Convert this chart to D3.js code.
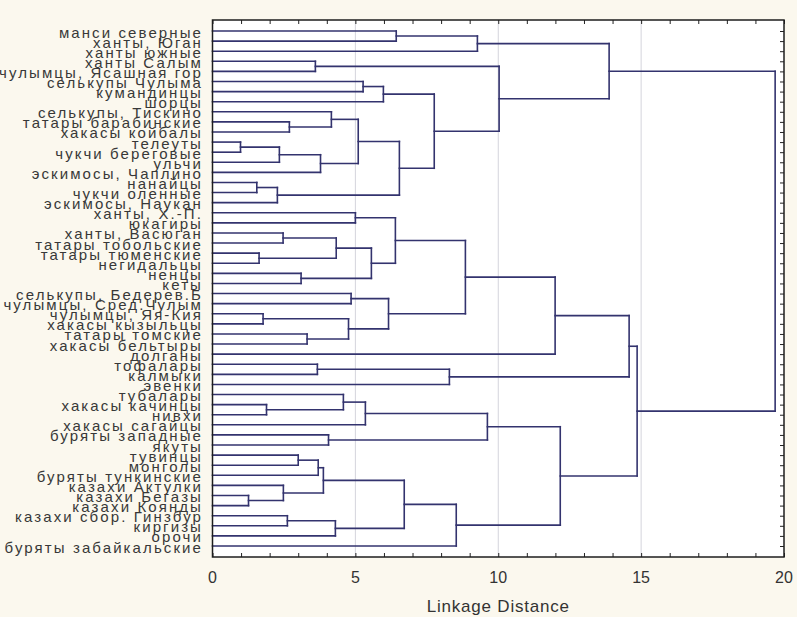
<!DOCTYPE html>
<html>
<head>
<meta charset="utf-8">
<script src="https://cdn.jsdelivr.net/npm/d3@7"></script>
<style>
    body { margin: 0; background: #fbf8ee; }
    svg { display: block; }
</style>
</head>
<body>
<svg width="797" height="617"></svg>
<script>
// listed top to bottom, as in the picture
const leaves = [
    "манси северные", "ханты, Юган", "ханты южные", "ханты Салым",
    "чулымцы, Ясашная гор", "селькупы Чулыма", "кумандинцы", "шорцы",
    "селькупы, Тискино", "татары барабинские", "хакасы койбалы", "телеуты",
    "чукчи береговые", "ульчи", "эскимосы, Чаплино", "нанайцы",
    "чукчи оленные", "эскимосы, Наукан", "ханты, Х.-П.", "юкагиры",
    "ханты, Васюган", "татары тобольские", "татары тюменские", "негидальцы",
    "ненцы", "кеты", "селькупы, Бедерев.Б", "чулымцы, Сред.Чулым",
    "чулымцы, Яя-Кия", "хакасы кызыльцы", "татары томские", "хакасы бельтыры",
    "долганы", "тофалары", "калмыки", "эвенки",
    "тубалары", "хакасы качинцы", "нивхи", "хакасы сагайцы",
    "буряты западные", "якуты", "тувинцы", "монголы",
    "буряты тункинские", "казахи Актулки", "казахи Бегазы", "казахи Коянды",
    "казахи сбор. Гинзбур", "киргизы", "орочи", "буряты забайкальские"
];

// joins: node a, node b (0..51 leaves, 52.. earlier joins in order)
const joinA = [0, 52, 3, 5, 55, 9, 8, 11, 59, 60, 58, 15, 63, 62, 56, 54, 53,
    18, 20, 22, 70, 24, 72, 69, 26, 28, 30, 77, 76, 75, 81, 33, 83, 82,
    37, 36, 87, 40, 88, 42, 91, 46, 45, 92, 48, 96, 95, 98, 90, 85, 68];
const joinB = [1, 2, 4, 6, 7, 10, 57, 12, 13, 14, 61, 16, 17, 64, 65, 66, 67,
    19, 21, 23, 71, 25, 73, 74, 27, 29, 31, 78, 79, 80, 32, 34, 35, 84,
    38, 86, 39, 41, 89, 43, 44, 47, 93, 94, 49, 50, 97, 51, 99, 100, 101];
const joinDist = [6.43, 9.27, 3.6, 5.27, 5.98, 2.69, 4.16, 0.98, 2.34, 3.78, 5.1,
    1.55, 2.27, 6.54, 7.76, 10.03, 13.88,
    5.0, 2.47, 1.63, 4.33, 3.1, 5.56, 6.4, 4.85, 1.77, 3.31, 4.76, 6.16,
    8.85, 11.99, 3.67, 8.29, 14.58,
    1.89, 4.58, 5.35, 4.06, 9.62, 3.0, 3.7, 1.26, 2.48, 3.88, 2.62, 4.3,
    6.71, 8.53, 12.17, 14.86, 19.69];

const xTicksMajor = [0, 5, 10, 15, 20];
const xTitle = "Linkage Distance";

function drawDendrogram() {
    let svg = d3.select("svg");

    const area = { left: 212.5, right: 784, top: 20, bottom: 557 };

    let scX = d3.scaleLinear().domain([0, 20]).range([area.left, area.right]);
    let scY = d3.scalePoint().domain(leaves).range([31, 546]);

    // plot background
    svg.append("rect")
        .attr("x", area.left)
        .attr("y", area.top)
        .attr("width", area.right - area.left)
        .attr("height", area.bottom - area.top)
        .style("fill", "#ffffff");

    // grid
    svg.selectAll(".grid")
        .data([5, 10, 15])
        .enter()
        .append("line")
        .attr("x1", d => scX(d))
        .attr("x2", d => scX(d))
        .attr("y1", area.top)
        .attr("y2", area.bottom)
        .style("stroke", "#d4d4dc")
        .style("stroke-width", 1);

    // node positions
    let nodeX = leaves.map(() => 0);
    let nodeY = leaves.map(d => scY(d));
    for (let i = 0; i < joinDist.length; i++) {
        nodeX.push(joinDist[i]);
        nodeY.push((nodeY[joinA[i]] + nodeY[joinB[i]]) / 2);
    }

    let segs = [];
    for (let i = 0; i < joinDist.length; i++) {
        const a = joinA[i], b = joinB[i], h = joinDist[i];
        segs.push([nodeX[a], nodeY[a], h, nodeY[a]]);
        segs.push([nodeX[b], nodeY[b], h, nodeY[b]]);
        segs.push([h, nodeY[a], h, nodeY[b]]);
    }

    svg.selectAll(".seg")
        .data(segs)
        .enter()
        .append("line")
        .attr("x1", d => scX(d[0]))
        .attr("y1", d => d[1])
        .attr("x2", d => scX(d[2]))
        .attr("y2", d => d[3])
        .style("stroke", "#33336e")
        .style("stroke-width", 1.6)
        .style("stroke-linecap", "square");

    // frame ticks
    svg.append("g")
        .attr("transform", `translate(0, ${area.top})`)
        .call(d3.axisBottom(scX).ticks(20).tickSize(4).tickFormat(""))
        .call(g => g.select(".domain").remove());
    svg.append("g")
        .attr("transform", `translate(0, ${area.bottom})`)
        .call(d3.axisTop(scX).ticks(20).tickSize(4).tickFormat(""))
        .call(g => g.select(".domain").remove());
    svg.append("g")
        .attr("transform", `translate(${area.right}, 0)`)
        .call(d3.axisLeft(scY).tickSize(4).tickFormat(""))
        .call(g => g.select(".domain").remove());
    svg.selectAll(".tick line").style("stroke", "#222");

    svg.append("rect")
        .attr("x", area.left)
        .attr("y", area.top)
        .attr("width", area.right - area.left)
        .attr("height", area.bottom - area.top)
        .style("fill", "none")
        .style("stroke", "#1e1e1e")
        .style("stroke-width", 1.5);

    // leaf labels
    svg.selectAll(".leaf")
        .data(leaves)
        .enter()
        .append("text")
        .attr("x", 203)
        .attr("y", d => scY(d) + 1)
        .attr("text-anchor", "end")
        .attr("dominant-baseline", "central")
        .style("font-family", "'Liberation Sans', Arial, sans-serif")
        .style("font-size", "15px")
        .style("letter-spacing", "2.1px")
        .style("fill", "#383838")
        .text(d => d);

    // x labels
    svg.selectAll(".xlab")
        .data(xTicksMajor)
        .enter()
        .append("text")
        .attr("x", d => scX(d))
        .attr("y", 577)
        .attr("text-anchor", "middle")
        .attr("dominant-baseline", "central")
        .style("font-family", "'Liberation Sans', Arial, sans-serif")
        .style("font-size", "16px")
        .style("fill", "#333")
        .text(d => d);

    svg.append("text")
        .attr("x", (area.left + area.right) / 2)
        .attr("y", 606)
        .attr("text-anchor", "middle")
        .attr("dominant-baseline", "central")
        .style("font-family", "'Liberation Sans', Arial, sans-serif")
        .style("font-size", "17px")
        .style("letter-spacing", "0.8px")
        .style("fill", "#333")
        .text(xTitle);
}

drawDendrogram();
</script>
</body>
</html>
